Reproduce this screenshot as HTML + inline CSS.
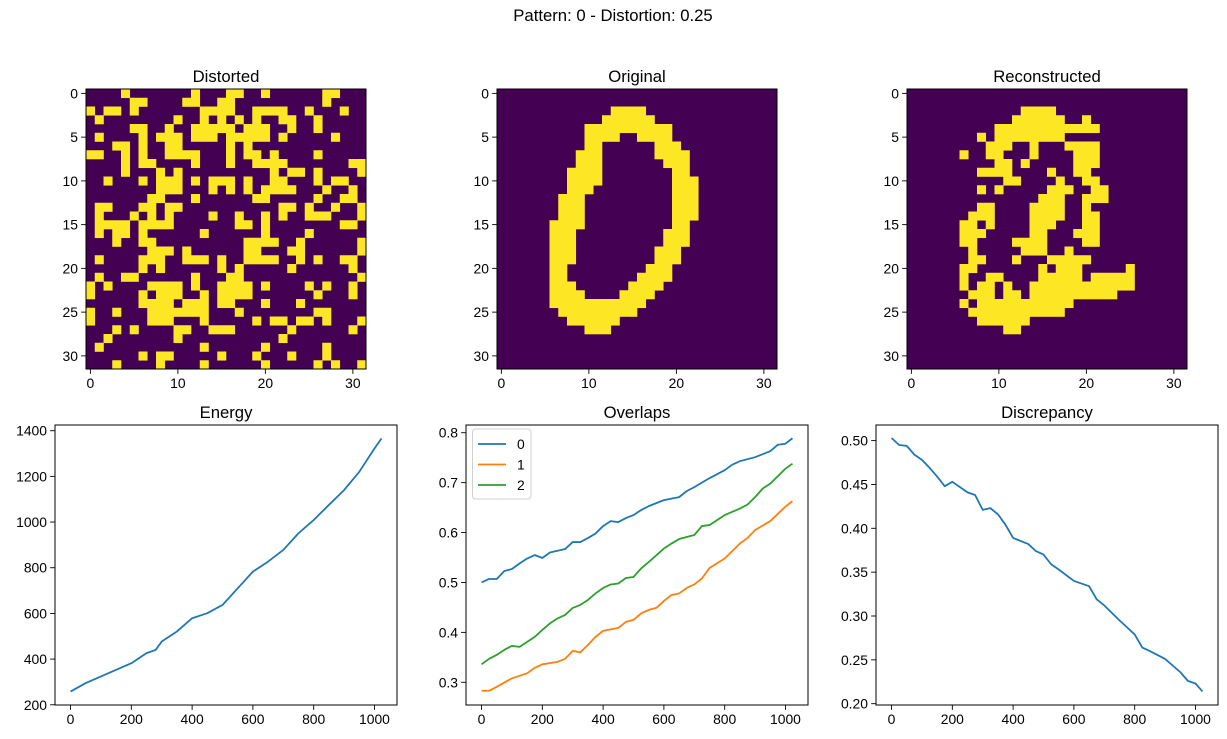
<!DOCTYPE html>
<html><head><meta charset="utf-8"><style>
html,body{margin:0;padding:0;background:#fff;}
svg{display:block;font-family:"Liberation Sans","DejaVu Sans",sans-serif;}
</style></head><body>
<svg id="fig" width="1227" height="739" viewBox="0 0 1227 739" xmlns="http://www.w3.org/2000/svg">
<text x="613" y="21" font-size="16.7" text-anchor="middle" fill="#000">Pattern: 0 - Distortion: 0.25</text>
</svg>
<script>
// ---- image grids: each row lists yellow column ranges ----
const distortedRows = ["4,12,16-17,20,27-28","5-6,11-12,15-16,27","0,2-3,5,13-16,19-22,25,29","1,10,13,15,17,19,22-23,26","5-6,9,12-16,18-20,23,26","1,6,8-10,12-14,16-20,22,28","3-4,6,9-10,16,18","0-1,4,6,9-12,16,18-19,21,26","4,6-7,12,16,19-22,30-31","4,8,10,21,23-24,26,31","2,6,8-10,12,14-16,18,21-22,26,28-29","8-10,14,16,18,20-23,27,30","7-8,12,19-20,26,29-30","1-2,6-7,9-10,22-23,25,28,31","1,5,7,9,14,17,20,22,25-27,31","1-4,6-9,17-18,20,29-30","1,3-4,6,13,20,25","3,6-7,18-21,24,31","7-9,11,18-19,23-24,31","1,6-8,11-13,15,18-21,24,26,29-30","6,8,15,17,23,30","1,4-5,12,16-17,31","0,2,7-10,12,15-18,20,25,27,30","0,6,8-10,13,15-18,26,30","6-9,11-13,15-16,20,24","0,3,7-13,17,26-27","0,7-9,13,19,21-22,24-25,27,31","3,5,10-11,14-16,23,30","2,10,22","1,13,20,27","6,8-9,15,19,23,27","3,8,13,20,26,28,31"];
const originalRows = ["","","13-16","12-17","10-19","10-13,16-19","10-11,18-20","9-11,18-21","9-11,19-21","8-11,20-21","8-11,20-22","8-10,20-22","7-9,20-22","7-9,20-22","7-9,20-22","6-9,20-21","6-8,19-21","6-8,19-21","6-8,18-20","6-8,18-20","6-7,17-19","6-7,16-19","6-8,15-18","6-9,14-17","6-16","7-15","8-13","10-12","","","",""];
const reconRows = ["","","13-16","12-17,20","10-21","8,10-17","9-11,14,18-21","6,9-10,14,19-21","10-11,13,19-21","8-11,16,19-20","11-12,17,20-21","8,10,16-18,21-22","15-17,20-22","8-9,14-17,20","7-9,14-17,20-21","6-7,9,14-16,20-21","6-8,14-15,19-21","6-7,12-15,20-21","7,13-15,18","7-8,12,16-20","6-7,15,17-19,25","6,9-10,15-19,21-25","6,8-9,11,14-25","7-9,11-12,14-23","6,8-18","7-17","8-13","11-12","","","",""];
const imgXTicks = [0,10,20,30];
const imgYTicks = [0,5,10,15,20,25,30];

// ---- line data ----
const energyX = [0,50,100,150,200,250,280,300,350,400,450,500,550,600,650,700,750,800,850,900,950,1000,1023];
const energyY = [258,295,324,353,382,426,440,477,521,579,601,637,710,783,827,878,951,1009,1075,1140,1220,1322,1366];
const discX = [0,25,50,75,100,125,150,175,200,250,275,300,325,350,375,400,450,475,500,525,550,600,650,675,700,750,775,800,825,850,900,950,975,1000,1023];
const discY = [0.503,0.495,0.494,0.484,0.478,0.469,0.459,0.448,0.453,0.441,0.438,0.421,0.423,0.416,0.404,0.389,0.382,0.374,0.370,0.359,0.353,0.340,0.334,0.319,0.312,0.295,0.287,0.279,0.264,0.260,0.251,0.236,0.226,0.223,0.214];
const ov0X = [0,25,50,75,100,125,150,175,200,225,275,300,325,350,375,400,425,450,475,500,525,550,600,650,675,700,750,800,825,850,900,950,975,1000,1023];
const ov0Y = [0.500,0.507,0.507,0.523,0.527,0.538,0.548,0.555,0.549,0.560,0.567,0.581,0.581,0.589,0.598,0.613,0.623,0.621,0.629,0.635,0.645,0.653,0.665,0.671,0.683,0.691,0.709,0.725,0.736,0.743,0.751,0.763,0.776,0.778,0.789];
const ov1X = [0,25,50,100,150,175,200,250,275,300,325,350,375,400,450,475,500,525,550,575,600,625,650,675,700,725,750,800,850,875,900,950,1000,1023];
const ov1Y = [0.283,0.283,0.291,0.308,0.318,0.329,0.336,0.341,0.347,0.363,0.360,0.375,0.391,0.403,0.409,0.421,0.425,0.438,0.445,0.449,0.463,0.475,0.478,0.489,0.496,0.508,0.529,0.548,0.578,0.589,0.605,0.623,0.652,0.663];
const ov2X = [0,25,50,75,100,125,150,175,200,225,250,275,300,325,350,375,400,425,450,475,500,525,550,600,625,650,700,725,750,800,850,875,900,925,950,1000,1023];
const ov2Y = [0.336,0.347,0.355,0.365,0.373,0.371,0.381,0.391,0.405,0.418,0.428,0.435,0.449,0.455,0.465,0.478,0.489,0.496,0.498,0.509,0.511,0.528,0.541,0.568,0.578,0.587,0.595,0.613,0.615,0.635,0.648,0.656,0.671,0.688,0.698,0.728,0.738];
const lineXTicks = [0,200,400,600,800,1000];
const energyTicks = [200,400,600,800,1000,1200,1400];
const ovTicks = [0.3,0.4,0.5,0.6,0.7,0.8];
const discTicks = [0.20,0.25,0.30,0.35,0.40,0.45,0.50];
const legendLabels = ["0","1","2"];

const NS = "http://www.w3.org/2000/svg";
const fig = document.getElementById('fig');
function mk(tag, attrs, parent){const e=document.createElementNS(NS,tag);for(const k in attrs)e.setAttribute(k,attrs[k]);(parent||fig).appendChild(e);return e;}
function parseRow(s){const out=new Set();if(!s)return out;s.split(',').forEach(p=>{const a=p.split('-').map(Number);const b=a.length>1?a[1]:a[0];for(let c=a[0];c<=b;c++)out.add(c);});return out;}

function drawImage(name,title,rows,x0,y0,size){
  const g=mk('g',{});
  
  
  const cs=size/32;
  const bg=mk('rect',{x:x0,y:y0,width:size,height:size,fill:'#440154'},g);
  
  
  rows.forEach((r,ri)=>{parseRow(r).forEach(c=>{
    const cell=mk('rect',{x:(x0+c*cs).toFixed(2),y:(y0+ri*cs).toFixed(2),width:(cs+0.3).toFixed(2),height:(cs+0.3).toFixed(2),fill:'#fde725'},g);
    
    
  });});
  mk('rect',{x:x0,y:y0,width:size,height:size,fill:'none',stroke:'#000','stroke-width':1},g);
  imgXTicks.forEach(t=>{const px=x0+(t+0.5)*cs;
    mk('line',{x1:px,x2:px,y1:y0+size,y2:y0+size+4.9,stroke:'#000','stroke-width':0.9},g);
    const tx=mk('text',{x:px,y:y0+size+19,'font-size':13.9,'text-anchor':'middle'},g);tx.textContent=t;
    
    });
  imgYTicks.forEach(t=>{const py=y0+(t+0.5)*cs;
    mk('line',{x1:x0-4.9,x2:x0,y1:py,y2:py,stroke:'#000','stroke-width':0.9},g);
    const tx=mk('text',{x:x0-8,y:py+5,'font-size':13.9,'text-anchor':'end'},g);tx.textContent=t;
    
    });
  const tt=mk('text',{x:x0+size/2,y:y0-7,'font-size':16.7,'text-anchor':'middle'},g);tt.textContent=title;
  
  
}
drawImage('distorted','Distorted',distortedRows,86,89,280);
drawImage('original','Original',originalRows,497,89,280);
drawImage('reconstructed','Reconstructed',reconRows,907,89,280);

function drawLines(name,title,x0,series,ymin,ymax,yticks,fmt){
  const top=425,bot=705,w=342,xmin=-51.15,xmax=1074.15;
  const g=mk('g',{});
  
  
  const sx=v=>x0+(v-xmin)/(xmax-xmin)*w;
  const sy=v=>bot-(v-ymin)/(ymax-ymin)*(bot-top);
  series.forEach((s,i)=>{
    const d=s.x.map((v,j)=>(j?'L':'M')+sx(v).toFixed(2)+' '+sy(s.y[j]).toFixed(2)).join(' ');
    const p=mk('path',{d:d,fill:'none',stroke:s.c,'stroke-width':1.8,'stroke-linejoin':'round'},g);
    
    
  });
  mk('rect',{x:x0,y:top,width:w,height:bot-top,fill:'none',stroke:'#000','stroke-width':1},g);
  lineXTicks.forEach(t=>{const px=sx(t);
    mk('line',{x1:px,x2:px,y1:bot,y2:bot+4.9,stroke:'#000','stroke-width':0.9},g);
    const tx=mk('text',{x:px,y:bot+19,'font-size':13.9,'text-anchor':'middle'},g);tx.textContent=t;
    
    });
  yticks.forEach(t=>{const py=sy(t);
    mk('line',{x1:x0-4.9,x2:x0,y1:py,y2:py,stroke:'#000','stroke-width':0.9},g);
    const tx=mk('text',{x:x0-8,y:py+5,'font-size':13.9,'text-anchor':'end'},g);tx.textContent=fmt(t);
    
    });
  const tt=mk('text',{x:x0+w/2,y:top-7,'font-size':16.7,'text-anchor':'middle'},g);tt.textContent=title;
  
  
  return g;
}
drawLines('energy','Energy',55,[{x:energyX,y:energyY,c:'#1f77b4'}],199,1425,energyTicks,t=>String(t));
drawLines('overlaps','Overlaps',466,[{x:ov0X,y:ov0Y,c:'#1f77b4'},{x:ov1X,y:ov1Y,c:'#ff7f0e'},{x:ov2X,y:ov2Y,c:'#2ca02c'}],0.2545,0.8155,ovTicks,t=>t.toFixed(1));
drawLines('discrepancy','Discrepancy',876,[{x:discX,y:discY,c:'#1f77b4'}],0.1985,0.5178,discTicks,t=>t.toFixed(2));

// legend
const lg=mk('g',{});


mk('rect',{x:472.5,y:429,width:58.5,height:70,rx:3,fill:'#fff','fill-opacity':0.8,stroke:'#d0d0d0','stroke-width':1},lg);
const lcols=['#1f77b4','#ff7f0e','#2ca02c'];
legendLabels.forEach((l,i)=>{const y=444+i*20.5;
  const ln=mk('line',{x1:478,x2:506,y1:y,y2:y,stroke:lcols[i],'stroke-width':1.8},lg);
  
  
  const tx=mk('text',{x:517,y:y+5,'font-size':13.9},lg);tx.textContent=l;
  
  });
</script>
</body></html>
